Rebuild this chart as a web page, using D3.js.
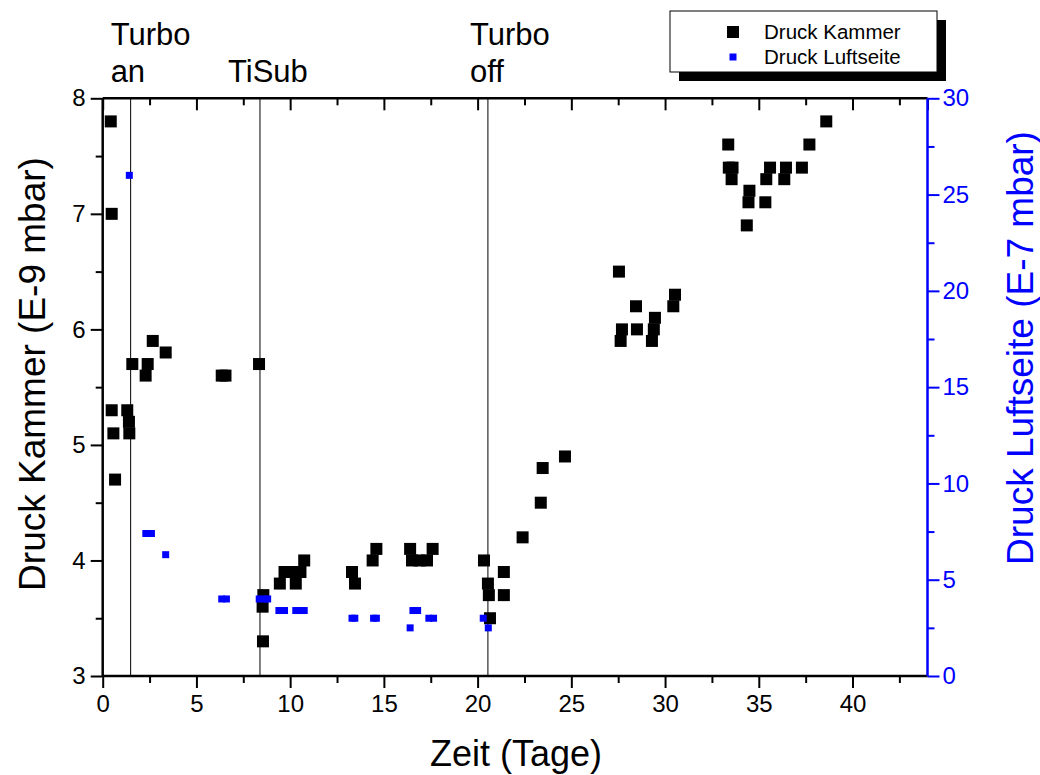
<!DOCTYPE html>
<html><head><meta charset="utf-8">
<script src="https://cdn.jsdelivr.net/npm/d3@7"></script>
<style>body{margin:0;background:#fff}svg{display:block}text{font-family:"Liberation Sans",Arial,sans-serif}</style>
</head><body>
<svg id="c" width="1040" height="775"></svg>
<script>
// Data
const kammerX = [0.43,0.48,0.48,0.57,0.66,1.31,1.40,1.42,1.58,2.29,2.40,2.67,3.36,6.35,6.55,8.34,8.53,8.55,8.57,9.45,9.7,10.3,10.55,10.3,10.75,13.3,13.46,14.4,14.6,16.4,16.5,16.9,17.3,17.6,20.34,20.55,20.6,20.66,21.4,21.4,22.4,23.37,23.47,24.66,27.54,27.63,27.7,28.45,28.5,29.3,29.4,29.46,30.44,30.53,33.37,33.4,33.6,33.55,34.36,34.5,34.45,35.35,35.4,35.6,36.36,36.45,37.3,37.7,38.6];
const kammerY = [7.8,7.0,5.3,5.1,4.7,5.3,5.2,5.1,5.7,5.6,5.7,5.9,5.8,5.6,5.6,5.7,3.6,3.3,3.7,3.8,3.9,3.8,3.9,3.9,4.0,3.9,3.8,4.0,4.1,4.1,4.0,4.0,4.0,4.1,4.0,3.8,3.7,3.5,3.9,3.7,4.2,4.5,4.8,4.9,6.5,5.9,6.0,6.2,6.0,5.9,6.0,6.1,6.2,6.3,7.6,7.4,7.4,7.3,6.9,7.2,7.1,7.1,7.3,7.4,7.3,7.4,7.4,7.6,7.8];
const luftX = [1.42,2.3,2.6,3.36,6.35,6.6,8.35,8.6,8.8,9.4,9.7,10.3,10.5,10.75,13.3,13.45,14.45,14.6,16.4,16.55,16.8,17.4,17.65,20.3,20.57];
const luftY = [26.0,7.4,7.4,6.3,4.0,4.0,4.0,4.0,4.0,3.4,3.4,3.4,3.4,3.4,3.0,3.0,3.0,3.0,2.5,3.4,3.4,3.0,3.0,3.0,2.5];
const eventX = [1.49,8.39,20.55];
const eventLabels = [["Turbo","an"],["TiSub"],["Turbo","off"]];
const xTicks = [0,5,10,15,20,25,30,35,40];
const yLeftTicks = [3,4,5,6,7,8];
const yRightTicks = [0,5,10,15,20,25,30];
const legendLabels = ["Druck Kammer","Druck Luftseite"];

const svg = d3.select("#c");
const L=102.7, R=927.5, T=98.3, B=676;
const x = d3.scaleLinear().domain([0,44]).range([L,R]);
const yl = d3.scaleLinear().domain([3,8]).range([B,T]);
const yr = d3.scaleLinear().domain([0,30]).range([B,T]);
const blue = "#0000ff";

// event lines
svg.append("g").selectAll("line").data(eventX).join("line")
  .attr("x1",d=>x(d)).attr("x2",d=>x(d)).attr("y1",T).attr("y2",B)
  .attr("stroke","#000").attr("stroke-width",1);

// axes
function styleAxis(g,color,w){ g.select(".domain").remove(); g.selectAll("line").attr("stroke",color).attr("stroke-width",w); g.selectAll("text").attr("fill",color).style("font-size","24px"); }
const minorX = d3.range(0,44.01,2.5).filter(v=>v%5!==0);
const gxb = svg.append("g").attr("transform",`translate(0,${B})`)
  .call(d3.axisBottom(x).tickValues(xTicks).tickSize(12).tickPadding(7).tickFormat(d3.format("d")));
styleAxis(gxb,"#000",2);
svg.append("g").attr("transform",`translate(0,${B})`).call(d3.axisBottom(x).tickValues(minorX).tickSize(7).tickFormat(""))
  .call(g=>styleAxis(g,"#000",2));
svg.append("g").attr("transform",`translate(0,${T})`).call(d3.axisBottom(x).tickValues(xTicks.concat([44])).tickSize(12).tickFormat(""))
  .call(g=>styleAxis(g,"#000",2));
svg.append("g").attr("transform",`translate(0,${T})`).call(d3.axisBottom(x).tickValues(minorX).tickSize(7).tickFormat(""))
  .call(g=>styleAxis(g,"#000",2));

const gyl = svg.append("g").attr("transform",`translate(${L},0)`)
  .call(d3.axisLeft(yl).tickValues(yLeftTicks).tickSize(12).tickPadding(5).tickFormat(d3.format("d")));
styleAxis(gyl,"#000",2);
svg.append("g").attr("transform",`translate(${L},0)`).call(d3.axisLeft(yl).tickValues(d3.range(3.5,8,1)).tickSize(7).tickFormat(""))
  .call(g=>styleAxis(g,"#000",2));

const gyr = svg.append("g").attr("transform",`translate(${R},0)`)
  .call(d3.axisRight(yr).tickValues(yRightTicks).tickSize(12).tickPadding(3).tickFormat(d3.format("d")));
styleAxis(gyr,blue,2);
svg.append("g").attr("transform",`translate(${R},0)`).call(d3.axisRight(yr).tickValues(d3.range(2.5,30,5)).tickSize(7).tickFormat(""))
  .call(g=>styleAxis(g,blue,2));

// frame
svg.append("line").attr("x1",L).attr("x2",R).attr("y1",B).attr("y2",B).attr("stroke","#000").attr("stroke-width",2.5);
svg.append("line").attr("x1",L).attr("x2",R).attr("y1",T).attr("y2",T).attr("stroke","#000").attr("stroke-width",2.5);
svg.append("line").attr("x1",L).attr("x2",L).attr("y1",T).attr("y2",B).attr("stroke","#000").attr("stroke-width",2.5);
svg.append("line").attr("x1",R).attr("x2",R).attr("y1",T).attr("y2",B).attr("stroke",blue).attr("stroke-width",2.5);

// points
const kS=12, lS=7;
svg.append("g").selectAll("rect").data(kammerX.map((d,i)=>[d,kammerY[i]])).join("rect")
  .attr("x",d=>x(d[0])-kS/2).attr("y",d=>yl(d[1])-kS/2).attr("width",kS).attr("height",kS).attr("fill","#000");
svg.append("g").selectAll("rect").data(luftX.map((d,i)=>[d,luftY[i]])).join("rect")
  .attr("x",d=>x(d[0])-lS/2).attr("y",d=>yr(d[1])-lS/2).attr("width",lS).attr("height",lS).attr("fill",blue);

// titles
svg.append("text").attr("x",516).attr("y",766).attr("text-anchor","middle").style("font-size","36px").text("Zeit (Tage)");
svg.append("text").attr("transform",`translate(45,374) rotate(-90)`).attr("text-anchor","middle").style("font-size","37px").text("Druck Kammer (E-9 mbar)");
svg.append("text").attr("transform",`translate(1033,348) rotate(-90)`).attr("text-anchor","middle").attr("fill",blue).style("font-size","37px").text("Druck Luftseite (E-7 mbar)");

// event labels
const offs = [-20,-32,-18];
eventLabels.forEach((lines,i)=>{
  const t = svg.append("text").style("font-size","31px");
  lines.forEach((s,j)=>{
    const yy = lines.length===2 ? (j===0?45:82) : 82;
    t.append("tspan").attr("x",x(eventX[i])+offs[i]).attr("y",yy).text(s);
  });
});

// legend
const lg = svg.append("g");
lg.append("rect").attr("x",679).attr("y",20).attr("width",267).attr("height",61).attr("fill","#000");
lg.append("rect").attr("x",670).attr("y",11).attr("width",267).attr("height",61).attr("fill","#fff").attr("stroke","#000").attr("stroke-width",1);
lg.append("rect").attr("x",733-kS/2).attr("y",32-kS/2).attr("width",kS).attr("height",kS).attr("fill","#000");
lg.append("rect").attr("x",733-lS/2).attr("y",57-lS/2).attr("width",lS).attr("height",lS).attr("fill",blue);
legendLabels.forEach((s,i)=>lg.append("text").attr("x",764).attr("y",[39,64][i]).style("font-size","20.5px").text(s));
</script>
</body></html>
